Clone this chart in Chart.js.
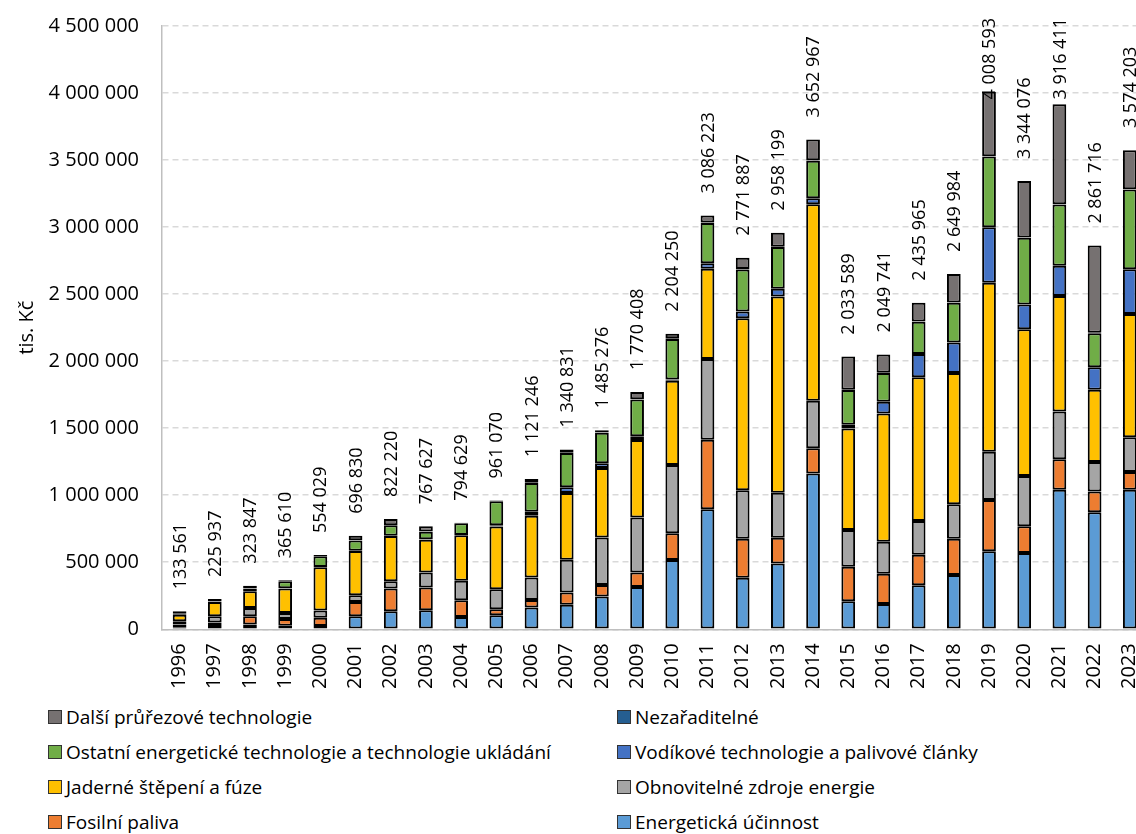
<!DOCTYPE html>
<html lang="cs">
<head>
<meta charset="utf-8">
<script src="https://cdn.jsdelivr.net/npm/chart.js@4/dist/chart.umd.min.js"></script>
<style>
    html, body { margin: 0; padding: 0; background: #fff; overflow: hidden; }
    body { width: 1136px; height: 834px; position: relative; font-family: "Open Sans", sans-serif; }
    #wrap { position: absolute; left: 0; top: 0; width: 1160px; height: 695px; }
    #legend { position: absolute; left: 48px; top: 699px; display: grid; grid-template-columns: 569px 500px; row-gap: 0; }
    .item { display: flex; align-items: center; height: 35px; font-size: 19px; color: #000; white-space: nowrap; }
    .box { width: 12px; height: 12px; border: 1.5px solid #333; margin-right: 4px; flex: none; }
</style>
</head>
<body>
<div id="wrap"><canvas id="chart"></canvas></div>
<div id="legend"></div>
<script>
const years = ['1996','1997','1998','1999','2000','2001','2002','2003','2004','2005','2006','2007','2008','2009',
    '2010','2011','2012','2013','2014','2015','2016','2017','2018','2019','2020','2021','2022','2023'];

const totals = [133561, 225937, 323847, 365610, 554029, 696830, 822220, 767627, 794629, 961070, 1121246, 1340831,
    1485276, 1770408, 2204250, 3086223, 2771887, 2958199, 3652967, 2033589, 2049741, 2435965, 2649984, 4008593,
    3344076, 3916411, 2861716, 3574203];

// tis. Kč
const energetickaUcinnost = [15000, 25000, 35000, 27000, 25000, 97000, 135000, 142000, 92000, 105000, 162000, 182000, 244000, 316000,
    516000, 895000, 384000, 491000, 1161000, 209000, 189000, 328000, 405000, 581000, 568000, 1040000, 872000, 1040000];
const fosilniPaliva = [20000, 25000, 62000, 50000, 60000, 107000, 169000, 169000, 125000, 44000, 57000, 92000, 87000, 107000,
    200000, 518000, 291000, 192000, 190000, 257000, 225000, 227000, 270000, 384000, 200000, 229000, 155000, 133000];
const obnovitelneZdroje = [25000, 47000, 62000, 45000, 54000, 50000, 55000, 112000, 144000, 150000, 167000, 244000, 354000, 411000,
    510000, 603000, 362000, 336000, 354000, 274000, 239000, 253000, 258000, 360000, 376000, 355000, 221000, 259000];
const jaderne = [48000, 107000, 125000, 182000, 324000, 329000, 336000, 245000, 341000, 468000, 461000, 498000, 518000, 578000,
    628000, 673000, 1283000, 1463000, 1465000, 758000, 957000, 1072000, 979000, 1259000, 1094000, 862000, 539000, 920000];
const vodikove = [1000, 1000, 1000, 1000, 1000, 2000, 3000, 3000, 2000, 8000, 30000, 43000, 35000, 28000,
    10000, 42000, 50000, 58000, 45000, 27000, 87000, 174000, 227000, 414000, 184000, 226000, 168000, 334000];
const ostatniEnergeticke = [5000, 3000, 19000, 54000, 81000, 78000, 77000, 56000, 86000, 179000, 214000, 256000, 227000, 274000,
    302000, 299000, 314000, 311000, 280000, 259000, 214000, 240000, 296000, 528000, 498000, 456000, 253000, 594000];
const nezaraditelne = [1000, 1000, 1000, 1000, 1000, 1000, 1000, 2000, 1000, 1000, 2000, 2000, 2000, 2000,
    5000, 5000, 3000, 3000, 3000, 2000, 2000, 2000, 2000, 3000, 3000, 3000, 3000, 3000];
const dalsiPrurezove = [19000, 17000, 19000, 6000, 8000, 33000, 46000, 39000, 4000, 6000, 28000, 24000, 18000, 54000,
    33000, 51000, 85000, 104000, 155000, 248000, 137000, 140000, 213000, 480000, 421000, 745000, 651000, 291000];

const yTicks = [0, 500000, 1000000, 1500000, 2000000, 2500000, 3000000, 3500000, 4000000, 4500000];

const fmt = v => String(v).replace(/\B(?=(\d{3})+(?!\d))/g, ' ');

const series = [
    { label: 'Energetická účinnost', data: energetickaUcinnost, color: '#5B9BD5' },
    { label: 'Fosilní paliva', data: fosilniPaliva, color: '#ED7D31' },
    { label: 'Obnovitelné zdroje energie', data: obnovitelneZdroje, color: '#A5A5A5' },
    { label: 'Jaderné štěpení a fúze', data: jaderne, color: '#FFC000' },
    { label: 'Vodíkové technologie a palivové články', data: vodikove, color: '#4472C4' },
    { label: 'Ostatní energetické technologie a technologie ukládání', data: ostatniEnergeticke, color: '#70AD47' },
    { label: 'Nezařaditelné', data: nezaraditelne, color: '#255E91' },
    { label: 'Další průřezové technologie', data: dalsiPrurezove, color: '#767171' }
];

const totalLabels = {
    id: 'totalLabels',
    afterDatasetsDraw(chart) {
        const ctx = chart.ctx;
        const x = chart.scales.x, y = chart.scales.y;
        ctx.save();
        ctx.font = '18px "Open Sans"';
        ctx.fillStyle = '#000';
        ctx.textAlign = 'left';
        ctx.textBaseline = 'middle';
        totals.forEach((t, i) => {
            const txt = fmt(t);
            const w = ctx.measureText(txt).width;
            let start = y.getPixelForValue(t) - 22;
            if (start - w < 18) start = 18 + w;
            ctx.save();
            ctx.translate(x.getPixelForValue(i), start);
            ctx.rotate(-Math.PI / 2);
            ctx.fillText(txt, 0, 1);
            ctx.restore();
        });
        ctx.restore();
    }
};

const chart = new Chart(document.getElementById('chart'), {
    type: 'bar',
    data: {
        labels: years,
        datasets: series.map(s => ({
            label: s.label,
            data: s.data,
            backgroundColor: s.color,
            borderColor: '#000',
            borderWidth: 2,
            borderSkipped: false,
            categoryPercentage: 1,
            barPercentage: 0.39
        }))
    },
    options: {
        responsive: true,
        maintainAspectRatio: false,
        animation: false,
        layout: { padding: { top: 26, right: 12, left: 0, bottom: 0 } },
        plugins: {
            legend: { display: false },
            tooltip: { enabled: false }
        },
        scales: {
            x: {
                stacked: true,
                grid: { display: false },
                border: { color: '#BFBFBF', width: 1.5 },
                ticks: {
                    color: '#000',
                    font: { family: 'Open Sans', size: 20 },
                    minRotation: 90,
                    maxRotation: 90,
                    padding: 6,
                    autoSkip: false
                }
            },
            y: {
                stacked: true,
                min: 0,
                max: 4500000,
                afterBuildTicks: scale => { scale.ticks = yTicks.map(v => ({ value: v })); },
                afterFit: scale => { scale.width = 162; },
                grid: { color: '#D9D9D9', lineWidth: 1.5, drawTicks: true, tickLength: 20, tickColor: 'transparent' },
                border: { color: '#BFBFBF', width: 1.5, dash: [6, 4] },
                ticks: {
                    color: '#000',
                    font: { family: 'Open Sans', size: 20 },
                    padding: 3,
                    callback: v => fmt(v)
                },
                title: {
                    display: true,
                    text: 'tis. Kč',
                    color: '#000',
                    font: { family: 'Open Sans', size: 20 },
                    padding: { top: 15, bottom: 0 }
                }
            }
        }
    },
    plugins: [totalLabels]
});

// two-column legend, same order as the reference (top of stack first)
const legendEl = document.getElementById('legend');
chart.data.datasets.slice().reverse().forEach(ds => {
    const item = document.createElement('div');
    item.className = 'item';
    const box = document.createElement('span');
    box.className = 'box';
    box.style.background = ds.backgroundColor;
    item.appendChild(box);
    item.appendChild(document.createTextNode(ds.label));
    legendEl.appendChild(item);
});
</script>
</body>
</html>
